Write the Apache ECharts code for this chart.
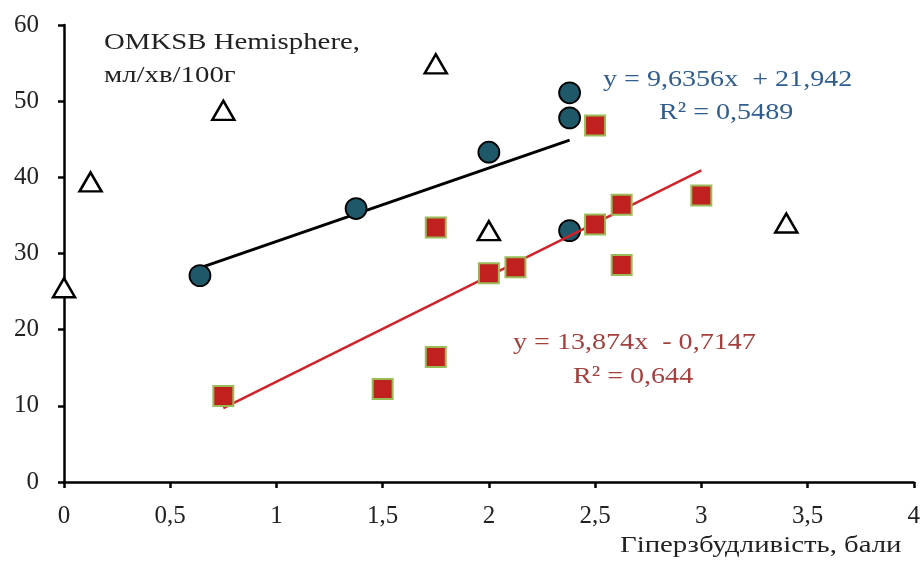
<!DOCTYPE html>
<html>
<head>
<meta charset="utf-8">
<script src="https://cdn.jsdelivr.net/npm/echarts@6/dist/echarts.min.js"></script>
<style>
  html, body { margin: 0; padding: 0; background: #fff; }
  #chart { width: 923px; height: 561px; }
</style>
</head>
<body>
<div id="chart"></div>
<script>
// circles (group 1)
const circlePts = [[0.64, 27.1], [1.375, 35.9], [2.0, 43.3], [2.38, 51.1], [2.38, 47.8], [2.38, 33.0]];
// squares (group 2)
const squarePts = [[0.75, 11.3], [1.5, 12.2], [1.75, 16.4], [1.75, 33.4], [2.0, 27.4], [2.125, 28.2],
  [2.5, 46.8], [2.5, 33.8], [2.625, 36.4], [2.625, 28.5], [3.0, 37.6]];
// triangles (group 3)
const trianglePts = [[0, 25.5], [0.125, 39.4], [0.75, 48.8], [1.75, 54.9], [2.0, 33.0], [3.4, 34.0]];

// trendline coefficients [slope, intercept] and x range
const blackFit = [9.6356, 21.942];
const blackRange = [0.64, 2.38];
const redFit = [13.874, -0.7147];
const redRange = [0.75, 3.0];

const xTicks = [0, 0.5, 1, 1.5, 2, 2.5, 3, 3.5, 4];
const yTicks = [0, 10, 20, 30, 40, 50, 60];

const fitLine = (fit, range) => range.map(x => [x, fit[0] * x + fit[1]]);

const serif = "'Liberation Serif', 'DejaVu Serif', serif";

// text stretched a little wider, as in the source picture
function label(text, x, y, color, sx) {
  return {
    type: "text", x: x, y: y, scaleX: sx || 1.2,
    style: { text: text, font: "24px " + serif, fill: color, textAlign: "left", textVerticalAlign: "middle" },
  };
}

const chart = echarts.init(document.getElementById("chart"));
const option = {
  animation: false,
  grid: { left: 64, right: 8, top: 25, bottom: 79 },
  xAxis: {
    type: "value",
    min: xTicks[0],
    max: xTicks[xTicks.length - 1],
    interval: 0.5,
    splitLine: { show: false },
    axisLine: { lineStyle: { color: "#000", width: 2.5 } },
    axisTick: { show: true, length: 6, lineStyle: { color: "#000", width: 2.5 } },
    axisLabel: {
      color: "#222", fontFamily: serif, fontSize: 25, margin: 22,
      formatter: v => String(v).replace(".", ","),
    },
  },
  yAxis: {
    type: "value",
    min: yTicks[0],
    max: yTicks[yTicks.length - 1],
    interval: 10,
    splitLine: { show: false },
    axisLine: { show: true, lineStyle: { color: "#000", width: 2.5 } },
    axisTick: { show: true, length: 6, lineStyle: { color: "#000", width: 2.5 } },
    axisLabel: { color: "#222", fontFamily: serif, fontSize: 25, margin: 25 },
  },
  graphic: [
    label("OMKSB Hemisphere,", 104, 43, "#222"),
    label("мл/хв/100г", 104, 76, "#222"),
    label("y = 9,6356x  + 21,942", 603, 80, "#2f5d8e", 1.17),
    label("R² = 0,5489", 659, 113, "#2f5d8e", 1.17),
    label("y = 13,874x  - 0,7147", 513, 343, "#a3403e", 1.17),
    label("R² = 0,644", 573, 377, "#a3403e", 1.17),
    label("Гіперзбудливість, бали", 620, 546, "#222"),
  ],
  series: [
    {
      type: "line", data: fitLine(blackFit, blackRange), symbol: "none", z: 2,
      lineStyle: { color: "#000", width: 3 },
    },
    {
      type: "line", data: fitLine(redFit, redRange), symbol: "none", z: 4,
      lineStyle: { color: "#d0222a", width: 2.5 },
    },
    {
      type: "scatter", data: circlePts, symbol: "circle", symbolSize: 21, z: 3,
      itemStyle: { color: "#1f5868", borderColor: "#000", borderWidth: 1.8, opacity: 1 },
    },
    {
      type: "scatter", data: squarePts, symbol: "rect", symbolSize: 20, z: 5,
      itemStyle: { color: "#c0211f", borderColor: "#9bbb59", borderWidth: 2, opacity: 1 },
    },
    {
      type: "scatter", data: trianglePts, symbol: "triangle", symbolSize: [22, 19], z: 6,
      itemStyle: { color: "#fff", borderColor: "#000", borderWidth: 2.5, opacity: 1 },
    },
  ],
};
chart.setOption(option);
</script>
</body>
</html>
